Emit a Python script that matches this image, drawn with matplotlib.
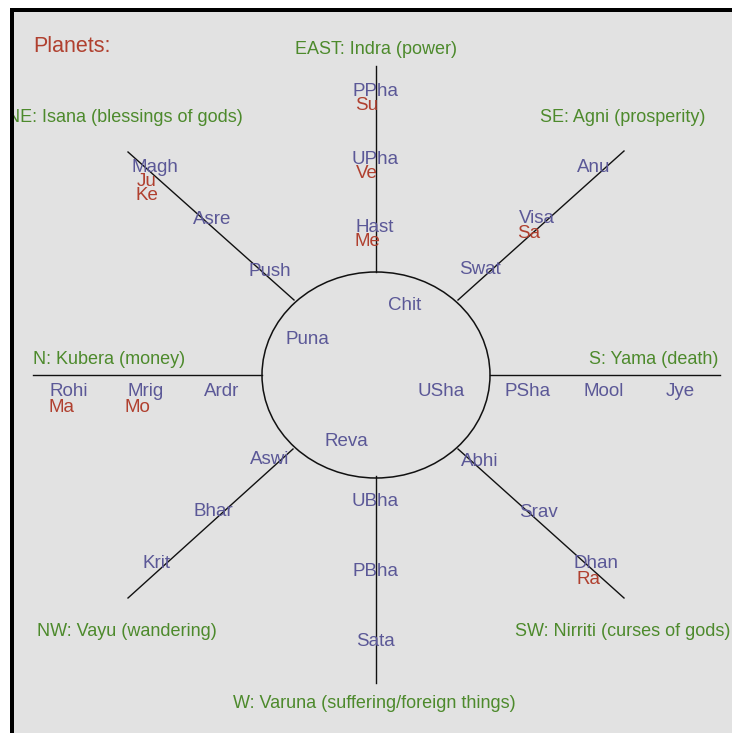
import matplotlib
matplotlib.use("Agg")
import matplotlib.pyplot as plt
from matplotlib.patches import Ellipse, Rectangle

# Nakshatras on each spoke, listed outer -> inner
spoke_dirs = ["E", "SE", "S", "SW", "W", "NW", "N", "NE"]
spoke_naks = {
    "E":  ["PPha", "UPha", "Hast"],
    "SE": ["Anu", "Visa", "Swat"],
    "S":  ["Jye", "Mool", "PSha"],
    "SW": ["Dhan", "Srav", "Abhi"],
    "W":  ["Sata", "PBha", "UBha"],
    "NW": ["Krit", "Bhar", "Aswi"],
    "N":  ["Rohi", "Mrig", "Ardr"],
    "NE": ["Magh", "Asre", "Push"],
}
# Nakshatras inside the circle
circle_naks = ["Chit", "Puna", "USha", "Reva"]

# Planets and the nakshatra they sit in
planet_names = ["Su", "Ve", "Me", "Ju", "Ke", "Sa", "Ma", "Mo", "Ra"]
planet_naks = ["PPha", "UPha", "Hast", "Magh", "Magh", "Visa", "Rohi", "Mrig", "Dhan"]

# Direction labels
dir_labels = {
    "E":  "EAST: Indra (power)",
    "SE": "SE: Agni (prosperity)",
    "S":  "S: Yama (death)",
    "SW": "SW: Nirriti (curses of gods)",
    "W":  "W: Varuna (suffering/foreign things)",
    "NW": "NW: Vayu (wandering)",
    "N":  "N: Kubera (money)",
    "NE": "NE: Isana (blessings of gods)",
}

# ---- layout (pixel space) ----
cx, cy = 376, 375
rx, ry = 114, 103
# spoke line end points relative to center (inner, outer)
spoke_lines = {
    "E":  ((0, -103), (0, -309)),
    "SE": ((82, -75), (248, -224)),
    "S":  ((114, 0), (344, 0)),
    "SW": ((82, 74), (248, 223)),
    "W":  ((0, 101), (0, 308)),
    "NW": ((-83, 74), (-248, 223)),
    "N":  ((-114, 0), (-343, 0)),
    "NE": ((-82, -75), (-248, -223)),
}
# outer label offset from center and step inward
spoke_lab = {
    "E":  ((-1, -284), (0, 68)),
    "SE": ((218, -208), (-57, 51.5)),
    "S":  ((304, 17), (-76, 0)),
    "SW": ((220, 189), (-58, -51.5)),
    "W":  ((-1, 266), (0, -70)),
    "NW": ((-219, 188), (56.5, -52)),
    "N":  ((-307, 17), (76.5, 0)),
    "NE": ((-221, -208), (57.5, 52)),
}
circle_lab = [(29, -70), (-69, -35), (65, 17), (-30, 67)]
dir_pos = {
    "E":  (376, 50, "center"),
    "SE": (705, 118, "right"),
    "S":  (718, 360, "right"),
    "SW": (730, 632, "right"),
    "W":  (374, 703, "center"),
    "NW": (37, 632, "left"),
    "N":  (33, 359, "left"),
    "NE": (243, 118, "right"),
}

green = "#4d8a2c"
purple = "#5b5897"
red = "#b0402f"
plain = ["Liberation Sans", "DejaVu Sans"]

fig = plt.figure(figsize=(7.32, 7.33), dpi=100)
ax = fig.add_axes([0, 0, 1, 1])
ax.set_xlim(0, 732)
ax.set_ylim(733, 0)
ax.axis("off")

ax.add_patch(Rectangle((10, 8), 730, 730, facecolor="#e2e2e2", edgecolor="none", zorder=0))

ax.add_patch(Ellipse((cx, cy), 2 * rx, 2 * ry, fill=False, edgecolor="#111111", lw=1.1, zorder=2))
for d in spoke_dirs:
    (x0, y0), (x1, y1) = spoke_lines[d]
    ax.plot([cx + x0, cx + x1], [cy + y0, cy + y1], color="#111111", lw=1.0, zorder=2)

nak_pos = {}
for d in spoke_dirs:
    (ox, oy), (sx, sy) = spoke_lab[d]
    for k, name in enumerate(spoke_naks[d]):
        nak_pos[name] = (cx + ox + k * sx, cy + oy + k * sy)
for name, (ox, oy) in zip(circle_naks, circle_lab):
    nak_pos[name] = (cx + ox, cy + oy)

for name, (x, y) in nak_pos.items():
    ax.text(x, y, name, color=purple, fontsize=13.5, family=plain,
            ha="center", va="center", zorder=3)

count = {}
for p, n in zip(planet_names, planet_naks):
    k = count.get(n, 0)
    count[n] = k + 1
    x, y = nak_pos[n]
    ax.text(x - 8, y + 15 + 14 * k, p, color=red, fontsize=13.5, family=plain,
            ha="center", va="center", zorder=4)

for d in spoke_dirs:
    x, y, ha = dir_pos[d]
    ax.text(x, y, dir_labels[d], color=green, fontsize=13, family=plain,
            ha=ha, va="center", zorder=3)

ax.text(33, 47, "Planets:", color=red, fontsize=15.5, family=plain,
        ha="left", va="center", zorder=3)

# black frame on top and left
ax.add_patch(Rectangle((0, 0), 10, 733, facecolor="white", edgecolor="none", zorder=5))
ax.add_patch(Rectangle((0, 0), 732, 8, facecolor="white", edgecolor="none", zorder=5))
ax.add_patch(Rectangle((10, 8), 4, 725, facecolor="black", edgecolor="none", zorder=6))
ax.add_patch(Rectangle((10, 8), 722, 4, facecolor="black", edgecolor="none", zorder=6))

fig.savefig("out.png", dpi=100)
